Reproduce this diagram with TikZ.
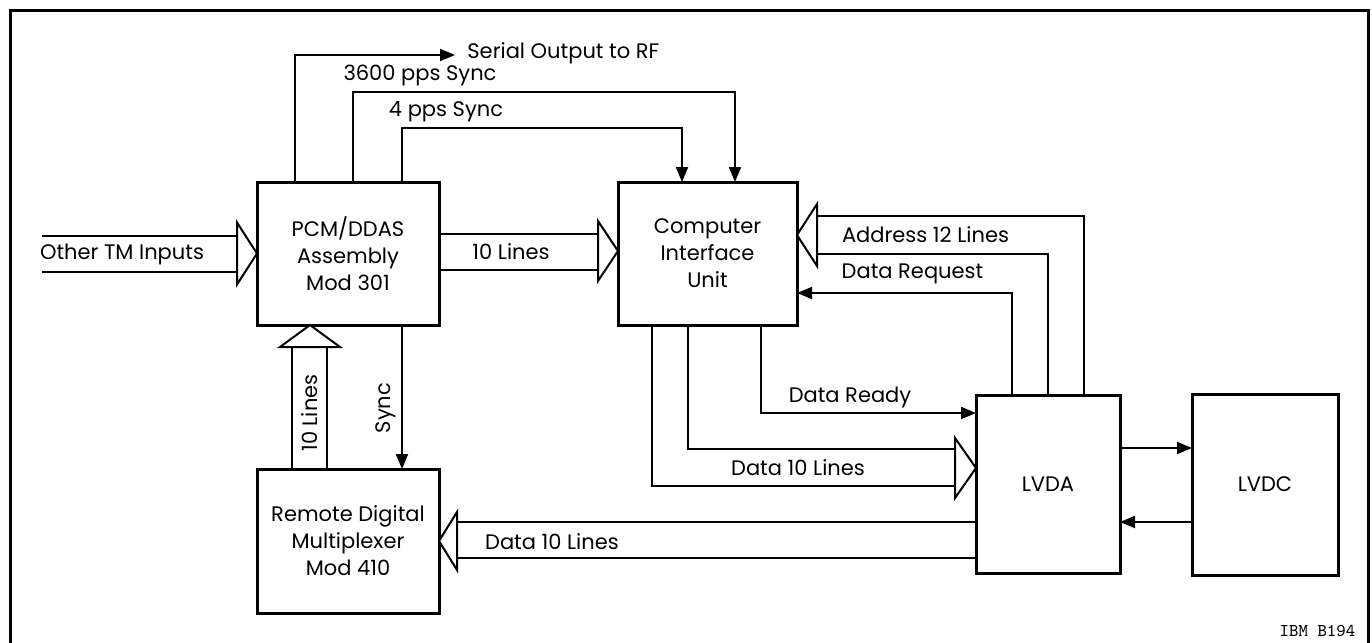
\documentclass[tikz,border=0pt]{standalone}
\usepackage{fontspec}
\setmainfont{Poppins}
\usetikzlibrary{calc,arrows.meta}
\begin{document}
\begin{tikzpicture}[x=0.5pt,y=-0.5pt,
  box/.style={draw,line width=1.5pt,inner sep=0pt,outer sep=0pt,align=center,
    font=\fontsize{10.5}{13.5}\selectfont},
  wire/.style={line width=1pt},
  sig/.style={line width=1pt,-{Triangle[length=7.5pt,width=6pt]}},
  tri/.style={line width=1pt,fill=white,line join=miter},
  lbl/.style={inner sep=0pt,font=\fontsize{10.5}{12}\selectfont},
  frame/.style={line width=1.5pt}]
\useasboundingbox (0,0) rectangle (1372,643);
\draw[frame] (10,660) -- (10,10) -- (1368,10) -- (1368,660);

% blocks
\node[box,minimum width=91pt,minimum height=71.5pt] (pcm) at (348,253.5) {PCM/DDAS\\Assembly\\Mod 301};
\node[box,minimum width=89.5pt,minimum height=71.5pt] (ciu) at (707.5,253.5) {Computer\\Interface\\Unit};
\node[box,minimum width=91pt,minimum height=72pt] (rdm) at (348,541) {Remote Digital\\Multiplexer\\Mod 410};
\node[box,minimum width=72pt,minimum height=89pt] (lvda) at (1048,484) {LVDA};
\node[box,minimum width=73pt,minimum height=90.5pt] (lvdc) at (1265,484.5) {LVDC};

% top signals
\coordinate (sertip) at (455,55);
\node[lbl,anchor=west] (serlbl) at (467,53) {Serial Output to RF};
\draw[sig] ($(pcm.north west)+(38,0)$) |- (sertip);
\draw[sig] ($(pcm.north west)+(96,0)$) |- ($(ciu.north west)+(117,-90)$) -- ($(ciu.north west)+(117,0)$);
\draw[sig] ($(pcm.north west)+(145,0)$) |- ($(ciu.north west)+(64,-54)$) -- ($(ciu.north west)+(64,0)$);
\node[lbl] (l3600) at (420,75) {3600 pps Sync};
\node[lbl] (l4pps) at (446,112) {4 pps Sync};

% Other TM inputs bus
\coordinate (tmsrc) at (42,253.5);
\draw[wire] ($(tmsrc)+(0,-18)$) -- ($(pcm.west)+(-20,-18)$);
\draw[wire] ($(tmsrc)+(0,18)$) -- ($(pcm.west)+(-20,18)$);
\draw[tri] (pcm.west) -- ($(pcm.west)+(-20,-31)$) -- ($(pcm.west)+(-20,31)$) -- cycle;
\node[lbl] (ltm) at (122,254) {Other TM Inputs};

% PCM -> CIU 10 lines
\draw[wire] ($(pcm.east)+(0,-19.5)$) -- ($(ciu.west)+(-20,-19.5)$);
\draw[wire] ($(pcm.east)+(0,16.5)$) -- ($(ciu.west)+(-20,16.5)$);
\draw[tri] ($(ciu.west)+(0,-2.5)$) -- ($(ciu.west)+(-20,-32.5)$) -- ($(ciu.west)+(-20,27.5)$) -- cycle;
\node[lbl] (l10a) at (511,252) {10 Lines};

% Address 12 lines
\draw[wire] ($(ciu.east)+(20,-37.5)$) -| ($(lvda.north west)+(108,0)$);
\draw[wire] ($(ciu.east)+(20,0.5)$) -| ($(lvda.north west)+(72,0)$);
\draw[tri] ($(ciu.east)+(0,-18.5)$) -- ($(ciu.east)+(20,-49.5)$) -- ($(ciu.east)+(20,12.5)$) -- cycle;
\node[lbl] (laddr) at (925.5,235) {Address 12 Lines};

% Data request
\draw[sig] ($(lvda.north west)+(36,0)$) |- ($(ciu.east)+(0,39.5)$);
\node[lbl] (ldreq) at (912.5,274) {Data Request};

% Data ready
\draw[sig] ($(ciu.south west)+(143,0)$) |- ($(lvda.north west)+(0,18)$);
\node[lbl] (ldrdy) at (850,397) {Data Ready};

% CIU -> LVDA data 10 lines
\draw[wire] ($(ciu.south west)+(70,0)$) |- ($(lvda.north west)+(-21,54)$);
\draw[wire] ($(ciu.south west)+(34,0)$) |- ($(lvda.north west)+(-21,91)$);
\draw[tri] ($(lvda.north west)+(0,73)$) -- ($(lvda.north west)+(-21,43)$) -- ($(lvda.north west)+(-21,103)$) -- cycle;
\node[lbl] (ld10a) at (798,468) {Data 10 Lines};

% LVDA <-> LVDC
\coordinate (ab) at ($(lvda.north east)+(0,53)$);
\coordinate (ba) at ($(lvda.north east)+(0,127)$);
\draw[sig] (ab) -- (ab -| lvdc.west);
\draw[sig] (ba -| lvdc.west) -- (ba);

% LVDA -> RDM data 10 lines
\draw[wire] ($(lvda.north west)+(0,127)$) -- ($(rdm.east)+(18,-19)$);
\draw[wire] ($(lvda.north west)+(0,163)$) -- ($(rdm.east)+(18,17)$);
\draw[tri] (rdm.east) -- ($(rdm.east)+(18,-29)$) -- ($(rdm.east)+(18,29)$) -- cycle;
\node[lbl] (ld10b) at (552,542) {Data 10 Lines};

% RDM -> PCM 10 lines (vertical)
\draw[wire] ($(rdm.north west)+(35,0)$) -- ($(pcm.south west)+(35,22)$);
\draw[wire] ($(rdm.north west)+(70,0)$) -- ($(pcm.south west)+(70,22)$);
\draw[tri] ($(pcm.south west)+(53,0)$) -- ($(pcm.south west)+(23,22)$) -- ($(pcm.south west)+(83,22)$) -- cycle;
\node[lbl,rotate=90] (l10v) at (310,413) {10 Lines};

% Sync
\draw[sig] ($(pcm.south west)+(145,0)$) -- ($(rdm.north west)+(145,0)$);
\node[lbl,rotate=90] (lsync) at (386,408) {Sync};

% ID
\node[inner sep=0pt,font=\ttfamily\fontsize{9}{10}\selectfont] (ibm) at (1317.5,631) {IBM B194};
\end{tikzpicture}
\end{document}
